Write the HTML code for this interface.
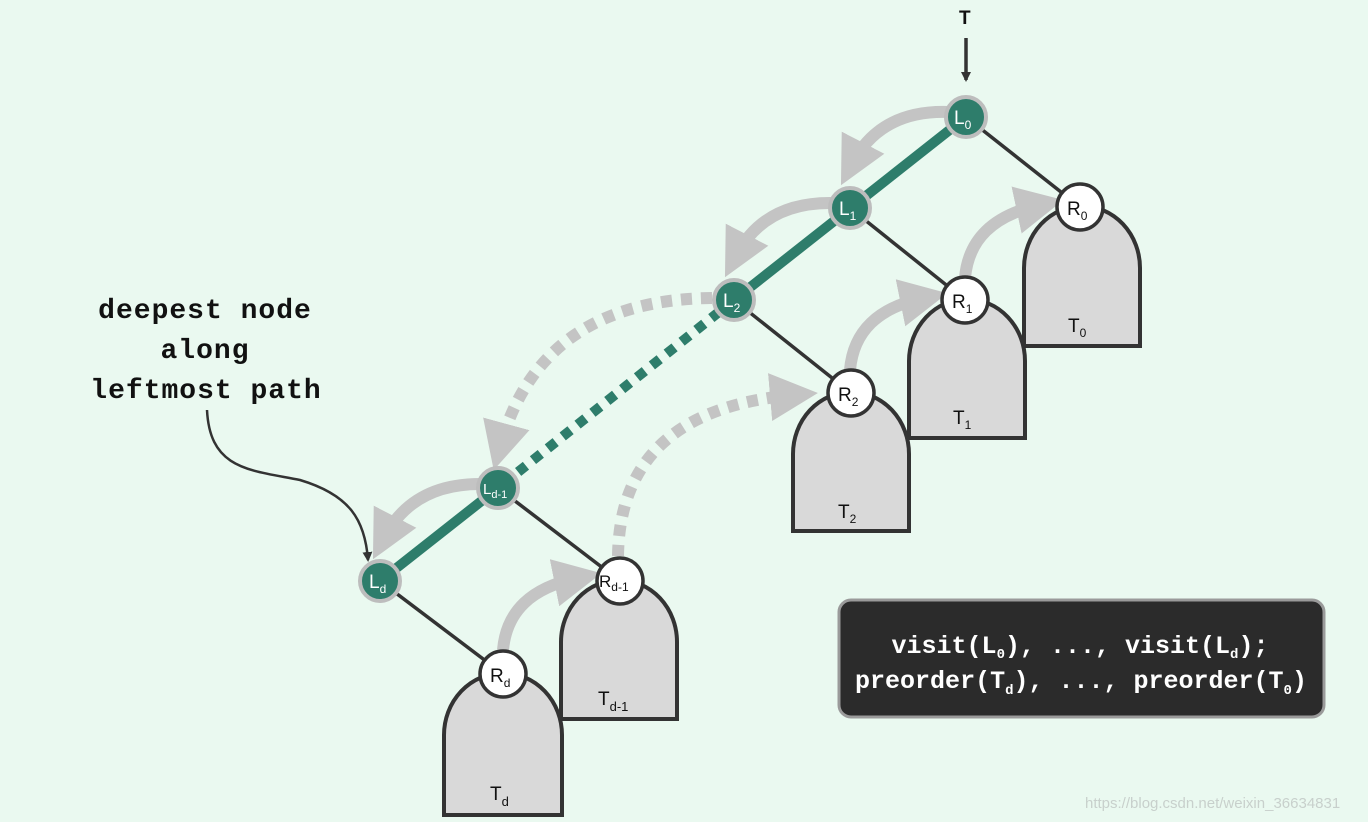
<!DOCTYPE html>
<html><head><style>
html,body{margin:0;padding:0;background:#eaf9f0;}
svg{display:block;}
.lab{font-family:"Liberation Sans",sans-serif;font-size:19px;}
.mono{font-family:"Liberation Mono",monospace;font-weight:bold;}
</style></head><body>
<svg width="1368" height="822" viewBox="0 0 1368 822" xmlns="http://www.w3.org/2000/svg">
<defs>
<marker id="ga" markerWidth="4" markerHeight="4" refX="2" refY="2" orient="auto" markerUnits="strokeWidth"><path d="M0,0 L4,2 L0,4 Z" fill="#c4c4c4"/></marker>
<marker id="ba" markerWidth="10" markerHeight="10" refX="8" refY="5" orient="auto" markerUnits="userSpaceOnUse"><path d="M0,0 L10,5 L0,10 Z" fill="#333"/></marker>
</defs>
<rect width="1368" height="822" fill="#eaf9f0"/>

<!-- trees -->
<g fill="#d9d9d9" stroke="#333" stroke-width="4">
<path d="M1024,346 L1024,268 A58,62 0 0 1 1140,268 L1140,346 Z"/>
<path d="M909,438 L909,361 A58,62 0 0 1 1025,361 L1025,438 Z"/>
<path d="M793,531 L793,454 A58,62 0 0 1 909,454 L909,531 Z"/>
<path d="M561,719 L561,642 A58,62 0 0 1 677,642 L677,719 Z"/>
<path d="M444,815 L444,735 A59,62 0 0 1 562,735 L562,815 Z"/>
</g>

<!-- black edges -->
<g stroke="#333" stroke-width="3.5">
<line x1="966" y1="117" x2="1080" y2="207"/>
<line x1="850" y1="208" x2="965" y2="300"/>
<line x1="734" y1="300" x2="851" y2="393"/>
<line x1="498" y1="488" x2="620" y2="581"/>
<line x1="380" y1="581" x2="503" y2="674"/>
</g>
<!-- green path -->
<g stroke="#2e7d6b" stroke-width="10">
<line x1="966" y1="117" x2="734" y2="300"/>
<line x1="498" y1="488" x2="380" y2="581"/>
<line x1="734" y1="300" x2="498" y2="488" stroke-dasharray="10 9"/>
</g>

<!-- T arrow -->
<line x1="966" y1="38" x2="966" y2="80" stroke="#333" stroke-width="3.5" marker-end="url(#ba)"/>

<!-- gray curved arrows -->
<g fill="none" stroke="#c4c4c4" stroke-width="12" marker-end="url(#ga)">
<path d="M948,112 Q880,110 852,164"/>
<path d="M832,203 Q764,202 736,256"/>
<path d="M480,484 Q412,484 384,538"/>
<path d="M965,278 Q970,220 1040,205"/>
<path d="M850,370 Q855,312 924,298"/>
<path d="M503,650 Q508,592 578,578"/>
<path d="M712,298 Q540,300 500,447" stroke-dasharray="11 9"/>
<path d="M618,556 Q620,410 794,395" stroke-dasharray="11 9"/>
</g>

<!-- label arrow -->
<path d="M207,410 C210,470 250,470 300,480 C350,495 365,520 368,560" fill="none" stroke="#333" stroke-width="2.5" marker-end="url(#ba)"/>

<!-- green nodes -->
<g fill="#2e7d6b" stroke="#bdbdbd" stroke-width="4">
<circle cx="966" cy="117" r="20"/>
<circle cx="850" cy="208" r="20"/>
<circle cx="734" cy="300" r="20"/>
<circle cx="498" cy="488" r="20"/>
<circle cx="380" cy="581" r="20"/>
</g>
<g fill="#fff" stroke="#333" stroke-width="3.5">
<circle cx="1080" cy="207" r="23"/>
<circle cx="965" cy="300" r="23"/>
<circle cx="851" cy="393" r="23"/>
<circle cx="620" cy="581" r="23"/>
<circle cx="503" cy="674" r="23"/>
</g>

<g class="lab" fill="#fff">
<text x="954" y="124">L<tspan font-size="12" dy="5">0</tspan></text>
<text x="839" y="215">L<tspan font-size="12" dy="5">1</tspan></text>
<text x="723" y="307">L<tspan font-size="12" dy="5">2</tspan></text>
<text x="483" y="494" font-size="15">L<tspan font-size="11" dy="4">d-1</tspan></text>
<text x="369" y="588">L<tspan font-size="12" dy="5">d</tspan></text>
</g>
<g class="lab" fill="#111">
<text x="1067" y="215">R<tspan font-size="12" dy="5">0</tspan></text>
<text x="952" y="308">R<tspan font-size="12" dy="5">1</tspan></text>
<text x="838" y="401">R<tspan font-size="12" dy="5">2</tspan></text>
<text x="599" y="587" font-size="17">R<tspan font-size="12" dy="4">d-1</tspan></text>
<text x="490" y="682">R<tspan font-size="12" dy="5">d</tspan></text>
<text x="1068" y="332">T<tspan font-size="12" dy="5">0</tspan></text>
<text x="953" y="424">T<tspan font-size="12" dy="5">1</tspan></text>
<text x="838" y="518">T<tspan font-size="12" dy="5">2</tspan></text>
<text x="598" y="705">T<tspan font-size="13" dy="6">d-1</tspan></text>
<text x="490" y="800">T<tspan font-size="13" dy="6">d</tspan></text>
<text x="959" y="24" font-weight="bold">T</text>
</g>

<!-- label -->
<g class="mono" font-size="28" fill="#111" text-anchor="middle" letter-spacing="1">
<text x="205" y="318">deepest node</text>
<text x="205" y="358">along</text>
<text x="206" y="398">leftmost path</text>
</g>

<!-- code box -->
<rect x="839" y="600" width="485" height="117" rx="12" fill="#2b2b2b" stroke="#9a9a9a" stroke-width="3"/>
<g class="mono" font-size="25" fill="#fff" text-anchor="middle">
<text x="1080" y="653">visit(L<tspan font-size="14" dy="5">0</tspan><tspan dy="-5">), ..., visit(L</tspan><tspan font-size="14" dy="5">d</tspan><tspan dy="-5">);</tspan></text>
<text x="1081" y="688">preorder(T<tspan font-size="14" dy="6">d</tspan><tspan dy="-6">), ..., preorder(T</tspan><tspan font-size="14" dy="6">0</tspan><tspan dy="-6">)</tspan></text>
</g>

<text x="1085" y="808" font-family="Liberation Sans,sans-serif" font-size="15" fill="#c8d0cc">https://blog.csdn.net/weixin_36634831</text>
</svg>
</body></html>
